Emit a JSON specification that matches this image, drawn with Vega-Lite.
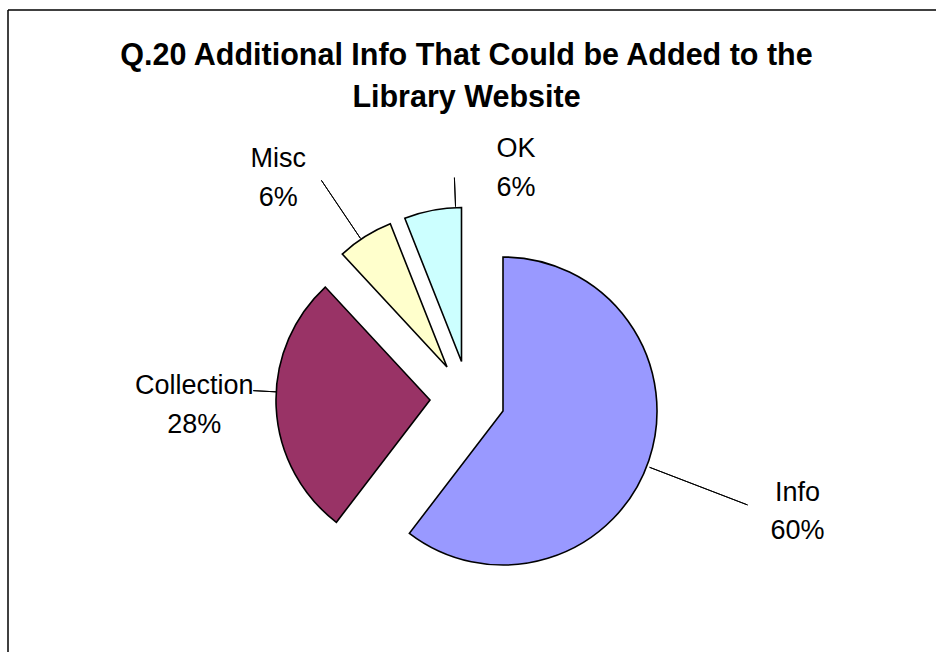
{
  "$schema": "https://vega.github.io/schema/vega-lite/v6.json",
  "width": 928,
  "height": 642,
  "autosize": {"type": "none"},
  "padding": {"left": 8, "top": 10, "right": 0, "bottom": 0},
  "background": "white",
  "config": {"view": {"stroke": null}, "font": "Liberation Sans"},
  "data": {
    "values": [
      {"cat": "Info", "value": 60.4},
      {"cat": "Collection", "value": 27.7},
      {"cat": "Misc", "value": 5.9},
      {"cat": "OK", "value": 6.0}
    ]
  },
  "transform": [
    {"stack": "value", "groupby": [], "as": ["v0", "v1"]},
    {"calculate": "(datum.v0 + datum.v1) / 2", "as": "mid"},
    {"calculate": "datum.cat + '\\n' + format(datum.value / 100, '.0%')", "as": "lab"}
  ],
  "layer": [
    {
      "transform": [{"filter": "datum.cat === 'Info'"}],
      "mark": {"type": "arc", "radius": 154, "stroke": "black", "strokeWidth": 1.6, "xOffset": 31, "yOffset": 80},
      "encoding": {
        "theta": {"field": "v0", "type": "quantitative", "scale": {"domain": [0, 100]}},
        "theta2": {"field": "v1"},
        "color": {"field": "cat", "type": "nominal", "legend": null,
          "scale": {"domain": ["Info", "Collection", "Misc", "OK"], "range": ["#9999FF", "#993366", "#FFFFCC", "#CCFFFF"]}}
      }
    },
    {
      "transform": [{"filter": "datum.cat === 'Collection'"}],
      "mark": {"type": "arc", "radius": 154, "stroke": "black", "strokeWidth": 1.6, "xOffset": -42, "yOffset": 69},
      "encoding": {
        "theta": {"field": "v0", "type": "quantitative", "scale": {"domain": [0, 100]}},
        "theta2": {"field": "v1"},
        "color": {"field": "cat", "type": "nominal", "legend": null}
      }
    },
    {
      "transform": [{"filter": "datum.cat === 'Misc'"}],
      "mark": {"type": "arc", "radius": 154, "stroke": "black", "strokeWidth": 1.6, "xOffset": -25, "yOffset": 36},
      "encoding": {
        "theta": {"field": "v0", "type": "quantitative", "scale": {"domain": [0, 100]}},
        "theta2": {"field": "v1"},
        "color": {"field": "cat", "type": "nominal", "legend": null}
      }
    },
    {
      "transform": [{"filter": "datum.cat === 'OK'"}],
      "mark": {"type": "arc", "radius": 154, "stroke": "black", "strokeWidth": 1.6, "xOffset": -10.5, "yOffset": 30.5},
      "encoding": {
        "theta": {"field": "v0", "type": "quantitative", "scale": {"domain": [0, 100]}},
        "theta2": {"field": "v1"},
        "color": {"field": "cat", "type": "nominal", "legend": null}
      }
    },
    {
      "transform": [{"filter": "datum.cat === 'Info'"}],
      "mark": {"type": "arc", "radius": 262, "radius2": 157, "filled": false, "stroke": "black", "strokeWidth": 1, "xOffset": 31, "yOffset": 80, "thetaOffset": 0.04, "theta2Offset": 0.04},
      "encoding": {
        "theta": {"field": "mid", "type": "quantitative"},
        "theta2": {"field": "mid"}
      }
    },
    {
      "transform": [{"filter": "datum.cat === 'Collection'"}],
      "mark": {"type": "arc", "radius": 177, "radius2": 154, "filled": false, "stroke": "black", "strokeWidth": 1, "xOffset": -42, "yOffset": 69, "thetaOffset": 0.1, "theta2Offset": 0.1},
      "encoding": {
        "theta": {"field": "mid", "type": "quantitative"},
        "theta2": {"field": "mid"}
      }
    },
    {
      "transform": [{"filter": "datum.cat === 'Misc'"}],
      "mark": {"type": "arc", "radius": 225, "radius2": 155, "filled": false, "stroke": "black", "strokeWidth": 1, "xOffset": -25, "yOffset": 36, "thetaOffset": -0.03, "theta2Offset": -0.03},
      "encoding": {
        "theta": {"field": "mid", "type": "quantitative"},
        "theta2": {"field": "mid"}
      }
    },
    {
      "transform": [{"filter": "datum.cat === 'OK'"}],
      "mark": {"type": "arc", "radius": 184, "radius2": 155, "filled": false, "stroke": "black", "strokeWidth": 1, "xOffset": -10.5, "yOffset": 30.5, "thetaOffset": 0.15, "theta2Offset": 0.15},
      "encoding": {
        "theta": {"field": "mid", "type": "quantitative"},
        "theta2": {"field": "mid"}
      }
    },
    {
      "transform": [{"filter": "datum.cat === 'Info'"}],
      "mark": {"type": "text", "radius": 311, "fontSize": 27, "font": "Liberation Sans", "lineBreak": "\n", "lineHeight": 38.5, "align": "center", "baseline": "middle", "color": "black", "xOffset": 31, "yOffset": 80, "dy": -18},
      "encoding": {
        "theta": {"field": "mid", "type": "quantitative"},
        "text": {"field": "lab"}
      }
    },
    {
      "transform": [{"filter": "datum.cat === 'Collection'"}],
      "mark": {"type": "text", "radius": 236, "fontSize": 27, "font": "Liberation Sans", "lineBreak": "\n", "lineHeight": 38.5, "align": "center", "baseline": "middle", "color": "black", "xOffset": -42, "yOffset": 69, "dy": -25},
      "encoding": {
        "theta": {"field": "mid", "type": "quantitative"},
        "text": {"field": "lab"}
      }
    },
    {
      "transform": [{"filter": "datum.cat === 'Misc'"}],
      "mark": {"type": "text", "radius": 230, "fontSize": 27, "font": "Liberation Sans", "lineBreak": "\n", "lineHeight": 38.5, "align": "center", "baseline": "middle", "color": "black", "xOffset": -25, "yOffset": 36, "dx": -46, "dy": -13},
      "encoding": {
        "theta": {"field": "mid", "type": "quantitative"},
        "text": {"field": "lab"}
      }
    },
    {
      "transform": [{"filter": "datum.cat === 'OK'"}],
      "mark": {"type": "text", "radius": 200, "fontSize": 27, "font": "Liberation Sans", "lineBreak": "\n", "lineHeight": 38.5, "align": "center", "baseline": "middle", "color": "black", "xOffset": -10.5, "yOffset": 30.5, "dx": 92, "dy": -16},
      "encoding": {
        "theta": {"field": "mid", "type": "quantitative"},
        "text": {"field": "lab"}
      }
    },
    {
      "data": {"values": [{}]},
      "mark": {"type": "text", "text": ["Q.20 Additional Info That Could be Added to the", "Library Website"], "font": "Liberation Sans", "fontSize": 30.5, "fontWeight": "bold", "color": "black", "align": "center", "baseline": "alphabetic", "lineHeight": 42, "dx": -5.5, "dy": -266},
      "encoding": {}
    },
    {
      "data": {"values": [{}]},
      "mark": {"type": "rule", "color": "black", "strokeWidth": 1.5},
      "encoding": {"y": {"value": 0}}
    },
    {
      "data": {"values": [{}]},
      "mark": {"type": "rule", "color": "black", "strokeWidth": 1.5},
      "encoding": {"x": {"value": 0}}
    }
  ]
}
